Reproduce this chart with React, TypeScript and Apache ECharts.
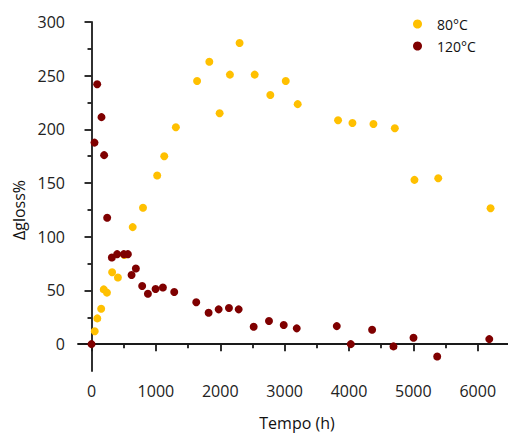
import React, { useEffect, useRef } from "react";
import * as echarts from "echarts";

const seriesNames = ["80°C", "120°C"];
const colors = ["#FFC000", "#7F0000"];

const time80 = [50, 90, 150, 190, 240, 320, 410, 510, 640, 800, 1020, 1130, 1310, 1640, 1830, 1990, 2150, 2300, 2535, 2778, 3017, 3203, 3830, 4053, 4380, 4712, 5017, 5386, 6199];
const gloss80 = [12, 24, 33, 51, 48, 67, 62, 83, 109, 127, 157, 175, 202, 245, 263, 215, 251, 280.5, 251, 232, 245, 223.5, 208.5, 206, 205, 201, 153, 154.5, 126.5];

const time120 = [0, 46, 88, 155, 196, 243, 316, 398, 502, 565, 622, 689, 787, 876, 995, 1109, 1285, 1627, 1819, 1975, 2135, 2286, 2519, 2757, 2986, 3188, 3810, 4028, 4359, 4691, 5002, 5370, 6179];
const gloss120 = [0, 187.7, 242, 211.4, 176, 117.7, 80.7, 83.8, 83.8, 83.8, 64.4, 70.4, 54.2, 47, 51.4, 52.7, 48.6, 39, 29.3, 32.4, 33.6, 32.4, 16.2, 21.5, 17.8, 14.7, 16.8, 0, 13.4, -2.1, 6, -11.5, 4.7];

const xMajorTicks = [0, 1000, 2000, 3000, 4000, 5000, 6000];
const xMinorTicks = [500, 1500, 2500, 3500, 4500, 5500];
const yMajorTicks = [0, 50, 100, 150, 200, 250, 300];
const yMinorTicks = [25, 75, 125, 175, 225, 275];

const xTitle = "Tempo (h)";
const yTitle = "Δgloss%";

const FONT = "'Open Sans', 'Noto Sans', sans-serif";
const AXIS_COLOR = "#1a1a1a";

export default function App() {
  const ref = useRef<HTMLDivElement>(null);
  useEffect(() => {
    if (!ref.current) return;
    const chart = echarts.init(ref.current, null, { renderer: "svg" });
    const xMin = -210, xMax = 6470, yMin = -25, yMax = 300;
    const axisLine = { show: true, lineStyle: { color: AXIS_COLOR, width: 1.8 } };
    const plain = (v: number) => String(v);
    chart.setOption({
      animation: false,
      backgroundColor: "#ffffff",
      textStyle: { fontFamily: FONT },
      grid: { left: 78, right: 0, top: 22, bottom: 66, containLabel: false },
      legend: {
        data: seriesNames,
        orient: "vertical",
        left: 408,
        top: 12,
        itemWidth: 9,
        itemHeight: 9,
        itemGap: 8,
        icon: "circle",
        textStyle: { fontSize: 14, lineHeight: 14, color: "#111", fontFamily: FONT, padding: [0, 0, 0, 10] },
      },
      xAxis: [
        {
          type: "value", min: xMin, max: xMax, position: "bottom",
          axisLine,
          splitLine: { show: false },
          axisTick: { show: true, length: 7, customValues: xMajorTicks, lineStyle: { color: AXIS_COLOR, width: 1.8 } },
          axisLabel: { customValues: xMajorTicks, formatter: plain, fontSize: 16, color: "#222", margin: 12, fontFamily: FONT },
        },
        {
          type: "value", min: xMin, max: xMax, position: "bottom",
          axisLine: { show: false },
          splitLine: { show: false },
          axisTick: { show: true, length: 4, customValues: xMinorTicks, lineStyle: { color: AXIS_COLOR, width: 1.8 } },
          axisLabel: { show: false },
        },
      ],
      yAxis: [
        {
          type: "value", min: yMin, max: yMax, position: "left",
          axisLine,
          splitLine: { show: false },
          axisTick: { show: true, length: 7, customValues: yMajorTicks, lineStyle: { color: AXIS_COLOR, width: 1.8 } },
          axisLabel: { customValues: yMajorTicks, formatter: plain, fontSize: 16, color: "#222", margin: 13, fontFamily: FONT },
        },
        {
          type: "value", min: yMin, max: yMax, position: "left",
          axisLine: { show: false },
          splitLine: { show: false },
          axisTick: { show: true, length: 4, customValues: yMinorTicks, lineStyle: { color: AXIS_COLOR, width: 1.8 } },
          axisLabel: { show: false },
        },
      ],
      graphic: [
        {
          type: "text", x: 297, y: 423,
          style: { text: xTitle, fontSize: 16, fontFamily: FONT, fill: "#111", align: "center", verticalAlign: "middle" },
        },
        {
          type: "text", x: 19, y: 210, rotation: Math.PI / 2,
          style: { text: yTitle, fontSize: 16, fontFamily: FONT, fill: "#111", align: "center", verticalAlign: "middle" },
        },
      ],
      series: [
        {
          name: seriesNames[0], type: "scatter", symbol: "circle", symbolSize: 8,
          xAxisIndex: 0, yAxisIndex: 0,
          itemStyle: { color: colors[0], opacity: 1 },
          data: time80.map((t, i) => [t, gloss80[i]]),
        },
        {
          name: seriesNames[1], type: "scatter", symbol: "circle", symbolSize: 8,
          xAxisIndex: 0, yAxisIndex: 0,
          itemStyle: { color: colors[1], opacity: 1 },
          data: time120.map((t, i) => [t, gloss120[i]]),
        },
      ],
    });
    return () => chart.dispose();
  }, []);
  return <div ref={ref} style={{ position: "absolute", left: 0, top: 0, width: 508, height: 437 }} />;
}
